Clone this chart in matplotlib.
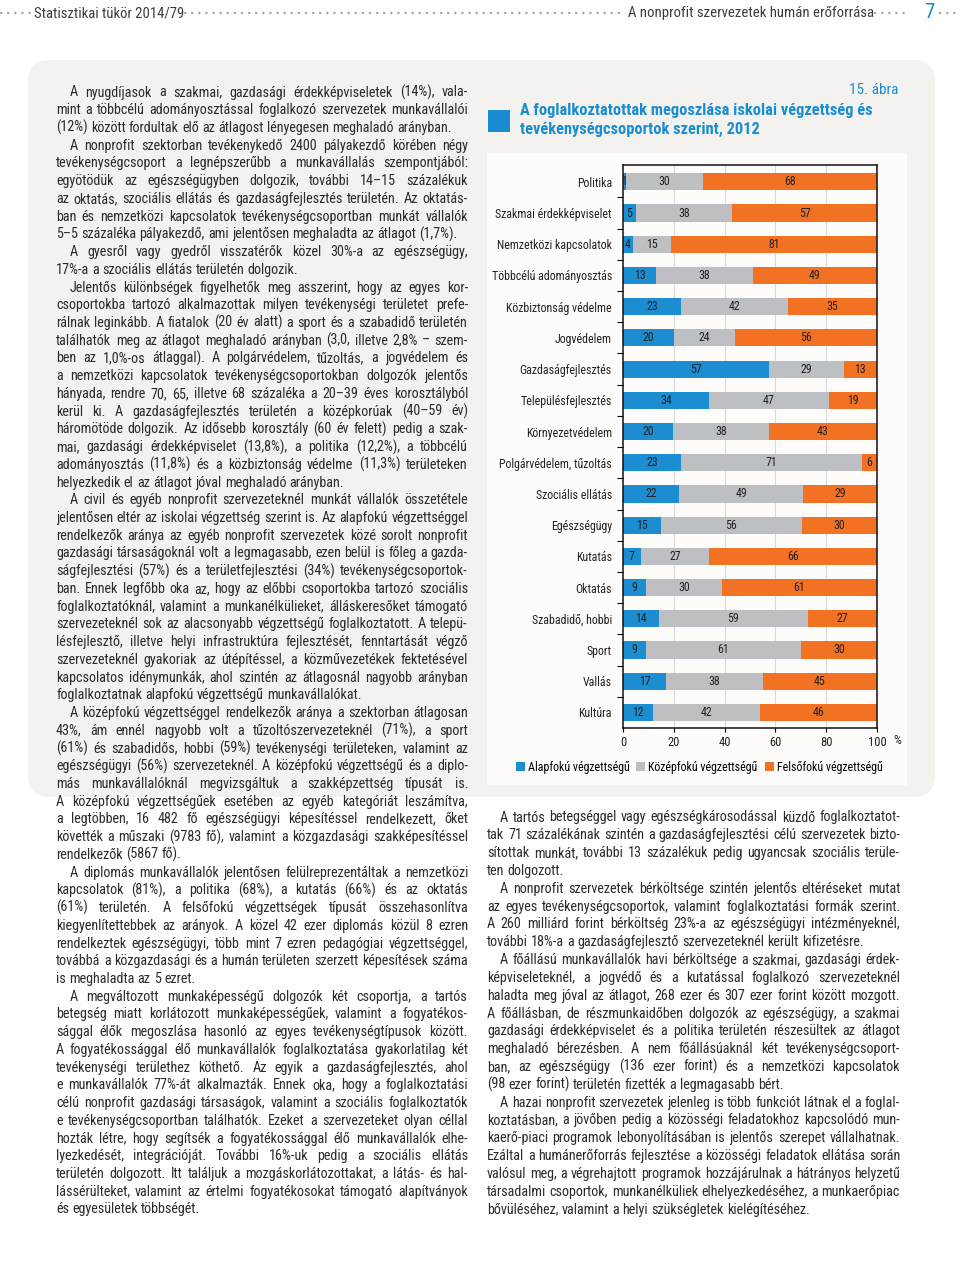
import matplotlib
matplotlib.use('Agg')
import matplotlib.pyplot as plt
from matplotlib import font_manager
from matplotlib.patches import FancyBboxPatch, Rectangle
import numpy as np

# --- adatok (15. ábra) ---
categories = ['Politika', 'Szakmai érdekképviselet', 'Nemzetközi kapcsolatok',
              'Többcélú adományosztás', 'Közbiztonság védelme', 'Jogvédelem',
              'Gazdaságfejlesztés', 'Településfejlesztés', 'Környezetvédelem',
              'Polgárvédelem, tűzoltás', 'Szociális ellátás', 'Egészségügy',
              'Kutatás', 'Oktatás', 'Szabadidő, hobbi', 'Sport', 'Vallás', 'Kultúra']
alapfoku = [1, 5, 4, 13, 23, 20, 57, 34, 20, 23, 22, 15, 7, 9, 14, 9, 17, 12]
kozepfoku = [30, 38, 15, 38, 42, 24, 29, 47, 38, 71, 49, 56, 27, 30, 59, 61, 38, 42]
felsofoku = [68, 57, 81, 49, 35, 56, 13, 19, 43, 6, 29, 30, 66, 61, 27, 30, 45, 46]
series_names = ['Alapfokú végzettségű', 'Középfokú végzettségű', 'Felsőfokú végzettségű']
x_ticks = [0, 20, 40, 60, 80, 100]

header_left = 'Statisztikai tükör 2014/79'
header_right = 'A nonprofit szervezetek humán erőforrása'
page_no = '7'
fig_no = '15. ábra'
title_lines = ['A foglalkoztatottak megoszlása iskolai végzettség és',
               'tevékenységcsoportok szerint, 2012']

left_lines = [
    'A nyugdíjasok a szakmai, gazdasági érdekképviseletek (14%), vala-',
    'mint a többcélú adományosztással foglalkozó szervezetek munkavállalói',
    '(12%) között fordultak elő az átlagost lényegesen meghaladó arányban.',
    'A nonprofit szektorban tevékenykedő 2400 pályakezdő körében négy',
    'tevékenységcsoport a legnépszerűbb a munkavállalás szempontjából:',
    'egyötödük az egészségügyben dolgozik, további 14–15 százalékuk',
    'az oktatás, szociális ellátás és gazdaságfejlesztés területén. Az oktatás-',
    'ban és nemzetközi kapcsolatok tevékenységcsoportban munkát vállalók',
    '5–5 százaléka pályakezdő, ami jelentősen meghaladta az átlagot (1,7%).',
    'A gyesről vagy gyedről visszatérők közel 30%-a az egészségügy,',
    '17%-a a szociális ellátás területén dolgozik.',
    'Jelentős különbségek figyelhetők meg asszerint, hogy az egyes kor-',
    'csoportokba tartozó alkalmazottak milyen tevékenységi területet prefe-',
    'rálnak leginkább. A fiatalok (20 év alatt) a sport és a szabadidő területén',
    'találhatók meg az átlagot meghaladó arányban (3,0, illetve 2,8% – szem-',
    'ben az 1,0%-os átlaggal). A polgárvédelem, tűzoltás, a jogvédelem és',
    'a nemzetközi kapcsolatok tevékenységcsoportokban dolgozók jelentős',
    'hányada, rendre 70, 65, illetve 68 százaléka a 20–39 éves korosztályból',
    'kerül ki. A gazdaságfejlesztés területén a középkorúak (40–59 év)',
    'háromötöde dolgozik. Az idősebb korosztály (60 év felett) pedig a szak-',
    'mai, gazdasági érdekképviselet (13,8%), a politika (12,2%), a többcélú',
    'adományosztás (11,8%) és a közbiztonság védelme (11,3%) területeken',
    'helyezkedik el az átlagot jóval meghaladó arányban.',
    'A civil és egyéb nonprofit szervezeteknél munkát vállalók összetétele',
    'jelentősen eltér az iskolai végzettség szerint is. Az alapfokú végzettséggel',
    'rendelkezők aránya az egyéb nonprofit szervezetek közé sorolt nonprofit',
    'gazdasági társaságoknál volt a legmagasabb, ezen belül is főleg a gazda-',
    'ságfejlesztési (57%) és a területfejlesztési (34%) tevékenységcsoportok-',
    'ban. Ennek legfőbb oka az, hogy az előbbi csoportokba tartozó szociális',
    'foglalkoztatóknál, valamint a munkanélkülieket, álláskeresőket támogató',
    'szervezeteknél sok az alacsonyabb végzettségű foglalkoztatott. A telepü-',
    'lésfejlesztő, illetve helyi infrastruktúra fejlesztését, fenntartását végző',
    'szervezeteknél gyakoriak az útépítéssel, a közművezetékek fektetésével',
    'kapcsolatos idénymunkák, ahol szintén az átlagosnál nagyobb arányban',
    'foglalkoztatnak alapfokú végzettségű munkavállalókat.',
    'A középfokú végzettséggel rendelkezők aránya a szektorban átlagosan',
    '43%, ám ennél nagyobb volt a tűzoltószervezeteknél (71%), a sport',
    '(61%) és szabadidős, hobbi (59%) tevékenységi területeken, valamint az',
    'egészségügyi (56%) szervezeteknél. A középfokú végzettségű és a diplo-',
    'más munkavállalóknál megvizsgáltuk a szakképzettség típusát is.',
    'A középfokú végzettségűek esetében az egyéb kategóriát leszámítva,',
    'a legtöbben, 16 482 fő egészségügyi képesítéssel rendelkezett, őket',
    'követték a műszaki (9783 fő), valamint a közgazdasági szakképesítéssel',
    'rendelkezők (5867 fő).',
    'A diplomás munkavállalók jelentősen felülreprezentáltak a nemzetközi',
    'kapcsolatok (81%), a politika (68%), a kutatás (66%) és az oktatás',
    '(61%) területén. A felsőfokú végzettségek típusát összehasonlítva',
    'kiegyenlítettebbek az arányok. A közel 42 ezer diplomás közül 8 ezren',
    'rendelkeztek egészségügyi, több mint 7 ezren pedagógiai végzettséggel,',
    'továbbá a közgazdasági és a humán területen szerzett képesítések száma',
    'is meghaladta az 5 ezret.',
    'A megváltozott munkaképességű dolgozók két csoportja, a tartós',
    'betegség miatt korlátozott munkaképességűek, valamint a fogyatékos-',
    'sággal élők megoszlása hasonló az egyes tevékenységtípusok között.',
    'A fogyatékossággal élő munkavállalók foglalkoztatása gyakorlatilag két',
    'tevékenységi területhez köthető. Az egyik a gazdaságfejlesztés, ahol',
    'e munkavállalók 77%-át alkalmazták. Ennek oka, hogy a foglalkoztatási',
    'célú nonprofit gazdasági társaságok, valamint a szociális foglalkoztatók',
    'e tevékenységcsoportban találhatók. Ezeket a szervezeteket olyan céllal',
    'hozták létre, hogy segítsék a fogyatékossággal élő munkavállalók elhe-',
    'lyezkedését, integrációját. További 16%-uk pedig a szociális ellátás',
    'területén dolgozott. Itt találjuk a mozgáskorlátozottakat, a látás- és hal-',
    'lássérülteket, valamint az értelmi fogyatékosokat támogató alapítványok',
    'és egyesületek többségét.',
]
left_starts = [0, 3, 9, 11, 23, 35, 44, 51]
left_ends = [2, 8, 10, 22, 34, 43, 50, 63]

right_lines = [
    'A tartós betegséggel vagy egészségkárosodással küzdő foglalkoztatot-',
    'tak 71 százalékának szintén a gazdaságfejlesztési célú szervezetek bizto-',
    'sítottak munkát, további 13 százalékuk pedig ugyancsak szociális terüle-',
    'ten dolgozott.',
    'A nonprofit szervezetek bérköltsége szintén jelentős eltéréseket mutat',
    'az egyes tevékenységcsoportok, valamint foglalkoztatási formák szerint.',
    'A 260 milliárd forint bérköltség 23%-a az egészségügyi intézményeknél,',
    'további 18%-a a gazdaságfejlesztő szervezeteknél került kifizetésre.',
    'A főállású munkavállalók havi bérköltsége a szakmai, gazdasági érdek-',
    'képviseleteknél, a jogvédő és a kutatással foglalkozó szervezeteknél',
    'haladta meg jóval az átlagot, 268 ezer és 307 ezer forint között mozgott.',
    'A főállásban, de részmunkaidőben dolgozók az egészségügy, a szakmai',
    'gazdasági érdekképviselet és a politika területén részesültek az átlagot',
    'meghaladó bérezésben. A nem főállásúaknál két tevékenységcsoport-',
    'ban, az egészségügy (136 ezer forint) és a nemzetközi kapcsolatok',
    '(98 ezer forint) területén fizették a legmagasabb bért.',
    'A hazai nonprofit szervezetek jelenleg is több funkciót látnak el a foglal-',
    'koztatásban, a jövőben pedig a közösségi feladatokhoz kapcsolódó mun-',
    'kaerő-piaci programok lebonyolításában is jelentős szerepet vállalhatnak.',
    'Ezáltal a humánerőforrás fejlesztése a közösségi feladatok ellátása során',
    'valósul meg, a végrehajtott programok hozzájárulnak a hátrányos helyzetű',
    'társadalmi csoportok, munkanélküliek elhelyezkedéséhez, a munkaerőpiac',
    'bővüléséhez, valamint a helyi szükségletek kielégítéséhez.',
]
right_starts = [0, 4, 8, 16]
right_ends = [3, 7, 15, 22]

# --- stílus ---
names = {f.name for f in font_manager.fontManager.ttflist}
FONT = next((n for n in ['Liberation Sans Narrow', 'Roboto Condensed', 'Liberation Sans']
             if n in names), 'DejaVu Sans')
INK = '#2b2b2b'
BLUE = '#1a8dd0'
colors = ['#1b8dd0', '#bebfc2', '#f37122']

W, H = 960, 1286
fig = plt.figure(figsize=(W / 100, H / 100), dpi=100, facecolor='white')
R = fig.canvas.get_renderer()

page = fig.add_axes([0, 0, 1, 1])
page.set_xlim(0, W)
page.set_ylim(H, 0)
page.axis('off')


def width(t):
    return t.get_window_extent(R).width


def fit(t, target):
    t.set_fontsize(t.get_fontsize() * target / width(t))
    return t


# fejléc
for x0, x1 in [(0, 31), (184, 622), (874, 906), (939, 960)]:
    page.plot([x0, x1], [13, 13], ls=(0, (1, 2.2)), lw=1.6, color='#a8a8a8')
fit(page.text(34, 13, header_left, family=FONT, fontsize=10, color='#3c3c3c', va='center'), 148)
fit(page.text(628, 13, header_right, family=FONT, fontsize=10, color='#3c3c3c', va='center'), 243)
page.text(929, 12, page_no, family=FONT, fontsize=15, color=BLUE, va='center', ha='center')

# szürke doboz és fehér ábraterület
page.add_patch(FancyBboxPatch((28, 60), 907, 737, boxstyle='round,pad=0,rounding_size=22',
                              fc='#f4f2ef', ec='none'))
page.add_patch(Rectangle((487, 153), 420, 632, fc='#fdfcfb', ec='none'))

# ábracím
page.text(898, 90, fig_no, family=FONT, fontsize=11, color=BLUE, ha='right', va='center')
page.add_patch(Rectangle((488, 110), 22, 22, fc=BLUE, ec='none'))
t1 = fit(page.text(520, 110, title_lines[0], family=FONT, weight='bold', fontsize=12,
                   color=BLUE, va='center'), 353)
page.text(520, 129, title_lines[1], family=FONT, weight='bold', fontsize=t1.get_fontsize(),
          color=BLUE, va='center')

# --- sorkizárt szöveg ---
BODY = 9.7


def make_column(lines, y0, pitch):
    rows = []
    for i, line in enumerate(lines):
        ts = [page.text(0, y0 + i * pitch + 4.5, w, family=FONT, fontsize=BODY, color=INK,
                        va='baseline') for w in line.split(' ')]
        rows.append(ts)
    return rows


cols = [
    dict(rows=make_column(left_lines, 92, 17.73), x0=56, x1=468, ind=14,
         starts=left_starts, ends=left_ends),
    dict(rows=make_column(right_lines, 817, 17.82), x0=487, x1=900, ind=13,
         starts=right_starts, ends=right_ends),
]

probe = page.text(0, -50, 'a a', family=FONT, fontsize=BODY)
probe2 = page.text(0, -50, 'aa', family=FONT, fontsize=BODY)
sp = width(probe) - width(probe2)

# betűméret: a legszorosabb sor épp kitöltse a hasábot
scale = 1.3
for c in cols:
    for i, ts in enumerate(c['rows']):
        avail = c['x1'] - c['x0'] - (c['ind'] if i in c['starts'] else 0)
        k = 1.0 if i in c['ends'] else 0.8
        need = sum(width(t) for t in ts) + (len(ts) - 1) * sp * k
        scale = min(scale, avail / need)

fs = BODY * scale
sp *= scale
for c in cols:
    for i, ts in enumerate(c['rows']):
        for t in ts:
            t.set_fontsize(fs)
        ws = [width(t) for t in ts]
        x = c['x0'] + (c['ind'] if i in c['starts'] else 0)
        avail = c['x1'] - x
        if i in c['ends'] or len(ts) == 1:
            gap = sp
        else:
            gap = (avail - sum(ws)) / (len(ts) - 1)
        for t, w in zip(ts, ws):
            t.set_x(x)
            x += w + gap

# --- oszlopdiagram ---
probe.set_text('Szakmai érdekképviselet')
probe.set_fontsize(9)
CFS = 9 * 117 / width(probe)

ax = fig.add_axes([623 / W, 1 - 728 / H, (877 - 623) / W, (728 - 165) / H])
ax.set_facecolor('none')
y = np.arange(len(categories))
series = [np.array(alapfoku), np.array(kozepfoku), np.array(felsofoku)]
total = sum(series)
left = np.zeros(len(categories))
handles = []
for vals, col, name in zip(series, colors, series_names):
    share = vals * 100 / total
    bars = ax.barh(y, share, left=left, height=0.55, color=col, label=name, zorder=2)
    ax.bar_label(bars, labels=[str(v) for v in vals], label_type='center',
                 fontsize=CFS, color='#222222', family=FONT)
    handles.append(bars)
    left += share

ax.set_xlim(0, 100)
ax.set_ylim(len(categories) - 0.5, -0.54)
ax.set_xticks(x_ticks)
ax.set_xticklabels([str(v) for v in x_ticks], fontsize=CFS * 1.05, family=FONT, color='#222222')
ax.set_yticks(y)
ax.set_yticklabels(categories, fontsize=CFS, family=FONT, color='#222222')
ax.set_yticks(np.arange(0.5, len(categories) - 1, 1), minor=True)
ax.tick_params(axis='y', which='major', length=0, pad=8)
ax.tick_params(axis='y', which='minor', length=4, width=0.8, direction='out')
ax.tick_params(axis='x', length=3, width=0.8, direction='out', pad=3)
for v in x_ticks[1:-1]:
    ax.axvline(v, color='#d8d8d8', lw=0.8, zorder=1)
for s in ax.spines.values():
    s.set_linewidth(1.1)
    s.set_color('#111111')

page.text(893, 741, '%', family=FONT, fontsize=CFS * 1.05, color='#222222', va='center')

fig.legend(handles, series_names, loc='center', bbox_to_anchor=(699 / W, 1 - 767 / H),
           ncol=3, frameon=False, handlelength=0.75, handleheight=0.75, handletextpad=0.25,
           columnspacing=0.6, prop={'family': FONT, 'size': CFS})

fig.savefig('out.png', dpi=100, facecolor='white')
